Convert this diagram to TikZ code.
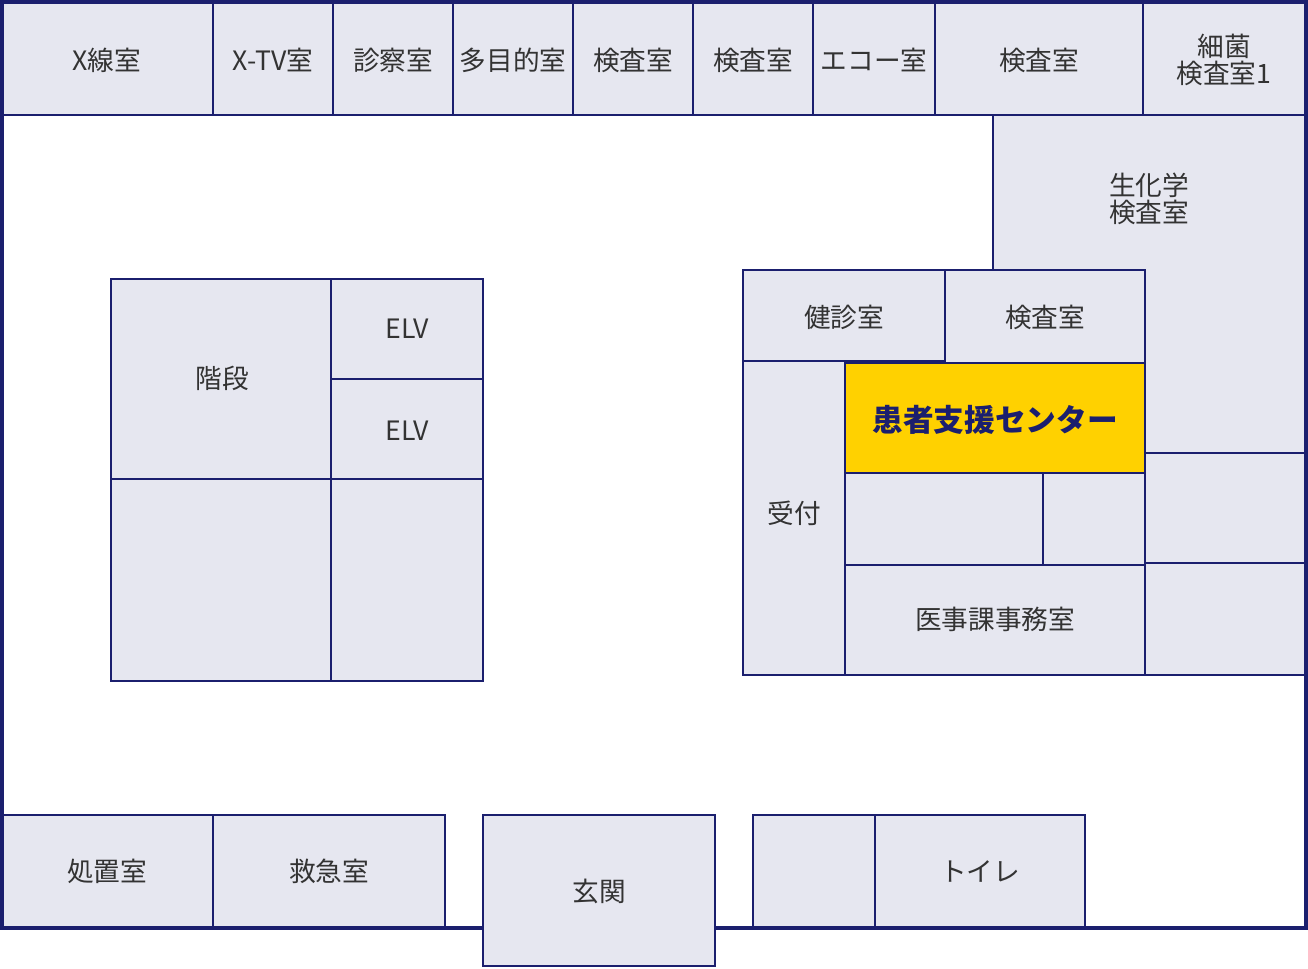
\documentclass[tikz,border=0pt]{standalone}
\usepackage{fontspec}
\setmainfont{Noto Sans CJK JP}
\definecolor{roomfill}{HTML}{E6E7F0}
\definecolor{wallnavy}{HTML}{1B1F6E}
\definecolor{labelgray}{HTML}{333333}
\definecolor{centeryellow}{HTML}{FFD100}
\begin{document}
\begin{tikzpicture}[x=0.75pt, y=-0.75pt]
		\tikzstyle{room}=[fill=roomfill, draw=wallnavy, line width=1.5pt]
		\tikzstyle{every node}=[font=\fontsize{20}{24}\selectfont, text=labelgray, align=center]
		\useasboundingbox (0,0) rectangle (1308,968);
		% top row
		\draw [room] (2,2) rectangle (213,115);
		\draw [room] (213,2) rectangle (333,115);
		\draw [room] (333,2) rectangle (453,115);
		\draw [room] (453,2) rectangle (573,115);
		\draw [room] (573,2) rectangle (693,115);
		\draw [room] (693,2) rectangle (813,115);
		\draw [room] (813,2) rectangle (935,115);
		\draw [room] (935,2) rectangle (1143,115);
		\draw [room] (1143,2) rectangle (1306,115);
		% right block
		\draw [room] (993,115) rectangle (1306,453);
		\draw [room] (743,270) rectangle (945,361);
		\draw [room] (945,270) rectangle (1145,363);
		\draw [room] (743,361) rectangle (845,675);
		\draw [room, fill=centeryellow] (845,363) rectangle (1145,473);
		\draw [room] (845,473) rectangle (1043,565);
		\draw [room] (1043,473) rectangle (1145,565);
		\draw [room] (1145,453) rectangle (1306,563);
		\draw [room] (845,565) rectangle (1145,675);
		\draw [room] (1145,563) rectangle (1306,675);
		% stairs and lifts
		\draw [room] (111,279) rectangle (331,479);
		\draw [room] (331,279) rectangle (483,379);
		\draw [room] (331,379) rectangle (483,479);
		\draw [room] (111,479) rectangle (331,681);
		\draw [room] (331,479) rectangle (483,681);
		% bottom row
		\draw [room] (2,815) rectangle (213,928);
		\draw [room] (213,815) rectangle (445,928);
		\draw [room] (753,815) rectangle (875,928);
		\draw [room] (875,815) rectangle (1085,928);
		% outer wall
		\draw [draw=wallnavy, line width=2.5pt] (2,2) rectangle (1306,928);
		\draw [room] (483,815) rectangle (715,966);
		% labels
		\node at (107,60) {X線室};
		\node at (273,60) {X-TV室};
		\node at (393,60) {診察室};
		\node at (513,60) {多目的室};
		\node at (633,60) {検査室};
		\node at (753,60) {検査室};
		\node at (874,60) {エコー室};
		\node at (1039,60) {検査室};
		\node at (1224,60) {細菌\\[-4pt]検査室1};
		\node at (1149,199) {生化学\\[-4pt]検査室};
		\node at (844,317) {健診室};
		\node at (1045,317) {検査室};
		\node at (794,513) {受付};
		\node [font=\fontsize{23}{27}\selectfont\bfseries, text=wallnavy] at (995,420) {患者支援センター};
		\node at (995,619) {医事課事務室};
		\node at (222,378) {階段};
		\node at (407,329) {ELV};
		\node at (407,431) {ELV};
		\node at (107,871) {処置室};
		\node at (329,871) {救急室};
		\node at (599,891) {玄関};
		\node at (980,871) {トイレ};
	\end{tikzpicture}
\end{document}
